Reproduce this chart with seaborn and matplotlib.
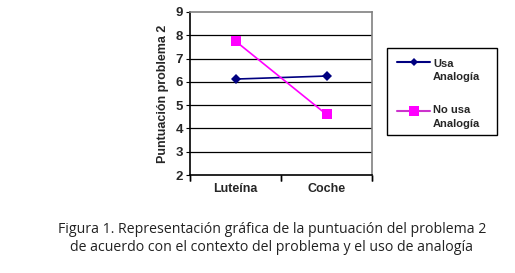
import matplotlib
matplotlib.use("Agg")
import matplotlib.pyplot as plt
import seaborn as sns
import pandas as pd
from matplotlib.lines import Line2D
from matplotlib.patches import Rectangle

categories = ["Luteína", "Coche"]
usa_analogia = [6.12, 6.25]
no_usa_analogia = [7.75, 4.6]
series_names = ["Usa\nAnalogía", "No usa\nAnalogía"]
yticks = [2, 3, 4, 5, 6, 7, 8, 9]

sns.set_style("white")
plt.rcParams['font.family'] = ['Liberation Sans', 'DejaVu Sans']

df = pd.DataFrame({
    "cat": categories * 2,
    "val": usa_analogia + no_usa_analogia,
    "serie": [series_names[0]] * 2 + [series_names[1]] * 2,
})

W, H = 515, 273
fig = plt.figure(figsize=(W/100, H/100), dpi=100)
ax = fig.add_axes([190/W, 1-175/H, 182/W, 163/H])

colors = {series_names[0]: "#000080", series_names[1]: "#FF00FF"}
markers = {series_names[0]: "D", series_names[1]: "s"}
sns.lineplot(data=df, x="cat", y="val", hue="serie", style="serie",
             palette=colors, markers=markers, dashes=False, ax=ax,
             linewidth=1.2, markersize=5, markeredgewidth=0, legend=False)
for line in ax.lines:
    if line.get_marker() == "s":
        line.set_markersize(7)
    else:
        line.set_markersize(5)

ax.set_xlim(-0.5, 1.5)
ax.set_ylim(2, 9)
ax.set_yticks(yticks)
ax.set_yticklabels([str(t) for t in yticks], fontsize=9.5, fontweight="bold")
ax.set_xticks([0, 1])
ax.set_xticklabels(categories, fontsize=9, fontweight="bold")
ax.tick_params(axis="x", length=0, pad=6)
ax.tick_params(axis="y", length=3, direction="out", color="black", left=True, pad=2)
for xb in [-0.5, 0.5, 1.5]:
    ax.plot([xb, xb], [2, 2], marker=3, color="black", markersize=4, clip_on=False)
ax.set_xlabel("")
ax.set_ylabel("Puntuación problema 2", fontsize=9, fontweight="bold", labelpad=5)
ax.grid(False)
for t in yticks[1:-1]:
    ax.axhline(t, color="black", linewidth=0.9, zorder=0)
ax.spines["left"].set_color("black")
ax.spines["bottom"].set_color("black")
ax.spines["top"].set_color("#808080")
ax.spines["right"].set_color("#808080")
for s in ax.spines.values():
    s.set_linewidth(1.2)

# legend drawn manually in pixel-based figure coordinates
def fx(px):
    return px / W
def fy(py):
    return 1 - py / H

fig.patches.append(Rectangle((fx(387), fy(135)), (497-387)/W, (135-48)/H,
                             transform=fig.transFigure, fill=False,
                             edgecolor="black", linewidth=1.0))
leg_items = [
    (series_names[0], "#000080", "#000080", "D", 4, 62, 70.5),
    (series_names[1], "#CC33CC", "#FF00FF", "s", 6.5, 111, 117),
]
for name, lc, mc, mk, ms, ypx, ytxt in leg_items:
    fig.add_artist(Line2D([fx(397), fx(430)], [fy(ypx), fy(ypx)], color=lc,
                          linewidth=1.5, transform=fig.transFigure))
    fig.add_artist(Line2D([fx(414)], [fy(ypx)], color=mc, marker=mk,
                          markersize=ms, markeredgewidth=0,
                          transform=fig.transFigure))
    fig.text(fx(433), fy(ytxt), name, ha="left", va="center", fontsize=8,
             fontweight="bold", linespacing=1.4)

fig.text(272/W, 1-238.5/H,
         "Figura 1. Representación gráfica de la puntuación del problema 2\nde acuerdo con el contexto del problema y el uso de analogía",
         ha="center", va="center", fontsize=10.2, family=["Open Sans", "DejaVu Sans"],
         color="#222222", linespacing=1.3, multialignment="center")

fig.savefig("out.png", dpi=100)
